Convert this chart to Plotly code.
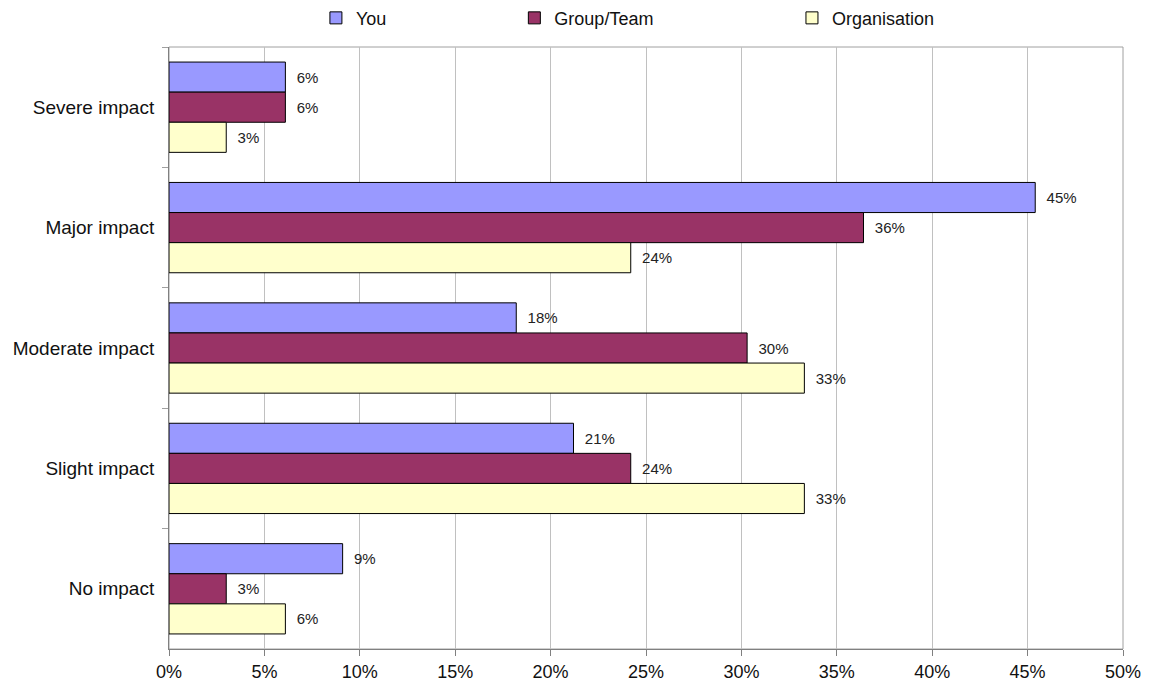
import plotly.graph_objects as go

categories = ["Severe impact", "Major impact", "Moderate impact", "Slight impact", "No impact"]
you = [6.1, 45.4, 18.2, 21.2, 9.1]
group_team = [6.1, 36.4, 30.3, 24.2, 3.0]
organisation = [3.0, 24.2, 33.3, 33.3, 6.1]
x_ticks = [0, 5, 10, 15, 20, 25, 30, 35, 40, 45, 50]
x_tick_labels = ["0%", "5%", "10%", "15%", "20%", "25%", "30%", "35%", "40%", "45%", "50%"]

series = [
    ("You", you, "#9999FF", "legend"),
    ("Group/Team", group_team, "#993366", "legend2"),
    ("Organisation", organisation, "#FFFFCC", "legend3"),
]

FAM = "Liberation Sans, Arial, sans-serif"

fig = go.Figure()
for name, vals, color, leg in series:
    fig.add_trace(go.Bar(
        y=categories, x=vals, name=name, orientation="h",
        marker=dict(color=color, line=dict(color="#000000", width=1)),
        texttemplate="\u00a0\u00a0%{x:.0f}%", textposition="outside",
        textfont=dict(size=15, color="#222222", family=FAM),
        cliponaxis=False, legend=leg, showlegend=True,
    ))

xfont = dict(family=FAM, size=18, color="#111111")
yfont = dict(family=FAM, size=19, color="#111111")
legfont = dict(family=FAM, size=18, color="#111111")
legcommon = dict(y=0.985, yref="container", xanchor="left", yanchor="middle",
                 orientation="h", font=legfont, bgcolor="rgba(0,0,0,0)", visible=True)

fig.update_layout(
    width=1142, height=678,
    margin=dict(l=161, r=27, t=39, b=37, autoexpand=False),
    paper_bgcolor="white", plot_bgcolor="white",
    font=xfont, showlegend=True,
    barmode="group", bargap=0.25, bargroupgap=0,
    legend=dict(x=0.154, **legcommon),
    legend2=dict(x=0.362, **legcommon),
    legend3=dict(x=0.653, **legcommon),
    xaxis=dict(
        range=[0, 50], tickvals=x_ticks, ticktext=x_tick_labels,
        showgrid=True, gridcolor="#C0C0C0", gridwidth=1,
        showline=True, linecolor="#808080", linewidth=1,
        ticks="outside", ticklen=6, tickcolor="#808080",
        zeroline=False, tickfont=xfont,
    ),
    yaxis=dict(
        categoryorder="array", categoryarray=categories, autorange="reversed",
        showline=True, linecolor="#808080", linewidth=1,
        ticks="outside", ticklen=6, tickcolor="#A0A0A0", tickson="boundaries",
        ticklabelstandoff=10,
        showgrid=False, zeroline=False, tickfont=yfont,
    ),
    shapes=[dict(type="rect", xref="paper", yref="paper", x0=0, x1=1, y0=0, y1=1,
                 line=dict(color="#A0A0A0", width=1), layer="below")],
)

fig.write_html("out.html")
